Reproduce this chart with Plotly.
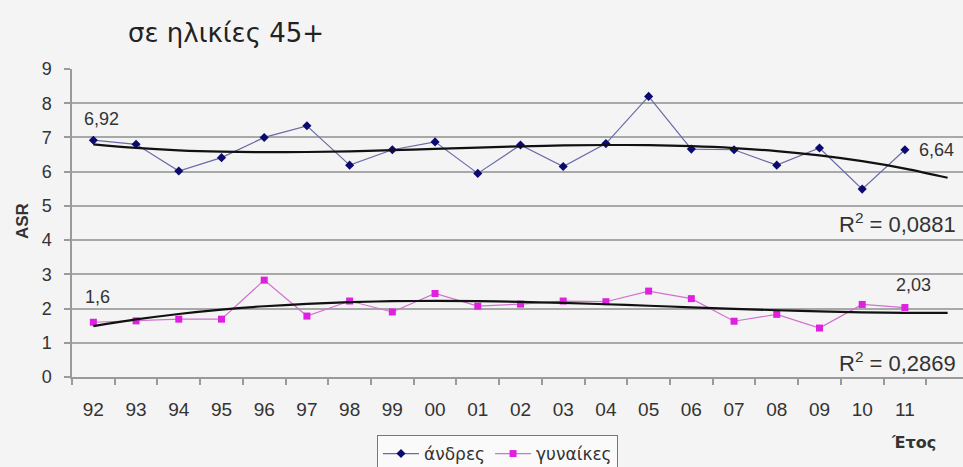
import numpy as np
import plotly.graph_objects as go

# ---- data ----
years = ["92", "93", "94", "95", "96", "97", "98", "99", "00", "01",
         "02", "03", "04", "05", "06", "07", "08", "09", "10", "11"]
men = [6.92, 6.80, 6.02, 6.41, 7.00, 7.34, 6.19, 6.64, 6.87, 5.95,
       6.78, 6.15, 6.82, 8.20, 6.66, 6.64, 6.19, 6.69, 5.49, 6.64]
women = [1.60, 1.64, 1.69, 1.69, 2.83, 1.78, 2.22, 1.90, 2.44, 2.07,
         2.13, 2.22, 2.20, 2.51, 2.29, 1.63, 1.83, 1.43, 2.12, 2.03]
r2_men = "0,0881"
r2_women = "0,2869"
trend_order = 3
forecast_slots = 1

NUM = "Liberation Sans, Arial, sans-serif"
GRK = "DejaVu Sans, Verdana, sans-serif"

x = np.arange(len(years))
x_tr = np.arange(len(years) + forecast_slots)
men_tr = np.polyval(np.polyfit(x, men, trend_order), x_tr)
women_tr = np.polyval(np.polyfit(x, women, trend_order), x_tr)

fig = go.Figure()
fig.add_trace(go.Scatter(x=x, y=men, mode="lines+markers", name="άνδρες",
                         line=dict(color="#6a6aa8", width=1.2),
                         marker=dict(symbol="diamond", size=7, color="#0a0a70")))
fig.add_trace(go.Scatter(x=x, y=women, mode="lines+markers", name="γυναίκες",
                         line=dict(color="#d070d0", width=1.2),
                         marker=dict(symbol="square", size=7, color="#e020e0")))
fig.add_trace(go.Scatter(x=x_tr, y=men_tr, mode="lines", showlegend=False,
                         line=dict(color="#111111", width=2.2, shape="spline"),
                         hoverinfo="skip"))
fig.add_trace(go.Scatter(x=x_tr, y=women_tr, mode="lines", showlegend=False,
                         line=dict(color="#111111", width=2.2, shape="spline"),
                         hoverinfo="skip"))

ann = []
lbl = dict(showarrow=False, font=dict(family=NUM, size=18, color="#333333"))
ann.append(dict(x=0, y=men[0], text=f"{men[0]:.2f}".replace(".", ","),
                xshift=8, yshift=21, **lbl))
ann.append(dict(x=len(years) - 1, y=men[-1], text=f"{men[-1]:.2f}".replace(".", ","),
                xshift=32, yshift=0, **lbl))
ann.append(dict(x=0, y=women[0], text=f"{women[0]:g}".replace(".", ","),
                xshift=4, yshift=25, **lbl))
ann.append(dict(x=len(years) - 1, y=women[-1], text=f"{women[-1]:.2f}".replace(".", ","),
                xshift=9, yshift=23, **lbl))
ann.append(dict(xref="paper", x=0.994, xanchor="right", y=4.5, yref="y",
                text=f"R<sup>2</sup> = {r2_men}", showarrow=False,
                font=dict(family=NUM, size=22, color="#333333")))
ann.append(dict(xref="paper", x=0.994, xanchor="right", y=0.43, yref="y",
                text=f"R<sup>2</sup> = {r2_women}", showarrow=False,
                font=dict(family=NUM, size=22, color="#333333")))
ann.append(dict(xref="paper", yref="paper", x=(913 - 72) / 891, y=(377 - 443) / 308,
                xanchor="center", yanchor="middle",
                text="<b>Έτος</b>", showarrow=False,
                font=dict(family=GRK, size=16, color="#333333")))
ann.append(dict(xref="paper", yref="paper", x=(22 - 72) / 891, y=(377 - 221) / 308,
                xanchor="center", yanchor="middle",
                text="<b>ASR</b>", textangle=-90, showarrow=False,
                font=dict(family=NUM, size=17, color="#333333")))

fig.update_layout(
    width=963, height=467,
    margin=dict(l=72, r=0, t=69, b=90, autoexpand=False),
    paper_bgcolor="#f4f4f4", plot_bgcolor="#f4f4f4",
    font=dict(family=NUM, color="#333333"),
    title=dict(text="σε ηλικίες 45+", x=128 / 963, xanchor="left",
               y=1 - 33 / 467, yanchor="middle",
               font=dict(family=GRK, size=26, color="#222222")),
    showlegend=True,
    legend=dict(orientation="h", x=(377 - 72) / 891, xanchor="left",
                y=(377 - 435) / 308, yanchor="top", bgcolor="#fafafa",
                bordercolor="#777777", borderwidth=1,
                font=dict(family=GRK, size=17, color="#333333"),
                itemwidth=36, tracegroupgap=0),
    annotations=ann,
)
fig.update_xaxes(range=[-0.5, 20.36], tickmode="array", tickvals=list(x),
                 ticktext=years, ticks="", showgrid=False, zeroline=False,
                 showline=True, linecolor="#9a9a9a", linewidth=1.5,
                 ticklabelstandoff=14,
                 tickfont=dict(family=NUM, size=19, color="#333333"),
                 minor=dict(tick0=-0.5, dtick=1, ticks="outside", ticklen=6,
                            tickcolor="#9a9a9a", tickwidth=1.5, showgrid=False))
fig.update_yaxes(range=[0, 9], dtick=1, ticks="outside", ticklen=6,
                 tickcolor="#9a9a9a", tickwidth=1.5, ticklabelstandoff=9,
                 showgrid=True, gridcolor="#a8a8a8", gridwidth=1.5,
                 zeroline=False, showline=True, linecolor="#9a9a9a", linewidth=1.5,
                 tickfont=dict(family=NUM, size=18, color="#333333"))

fig.write_html("out.html", config={"displayModeBar": False},
               post_script="document.body.style.margin='0';document.body.style.overflow='hidden';")
